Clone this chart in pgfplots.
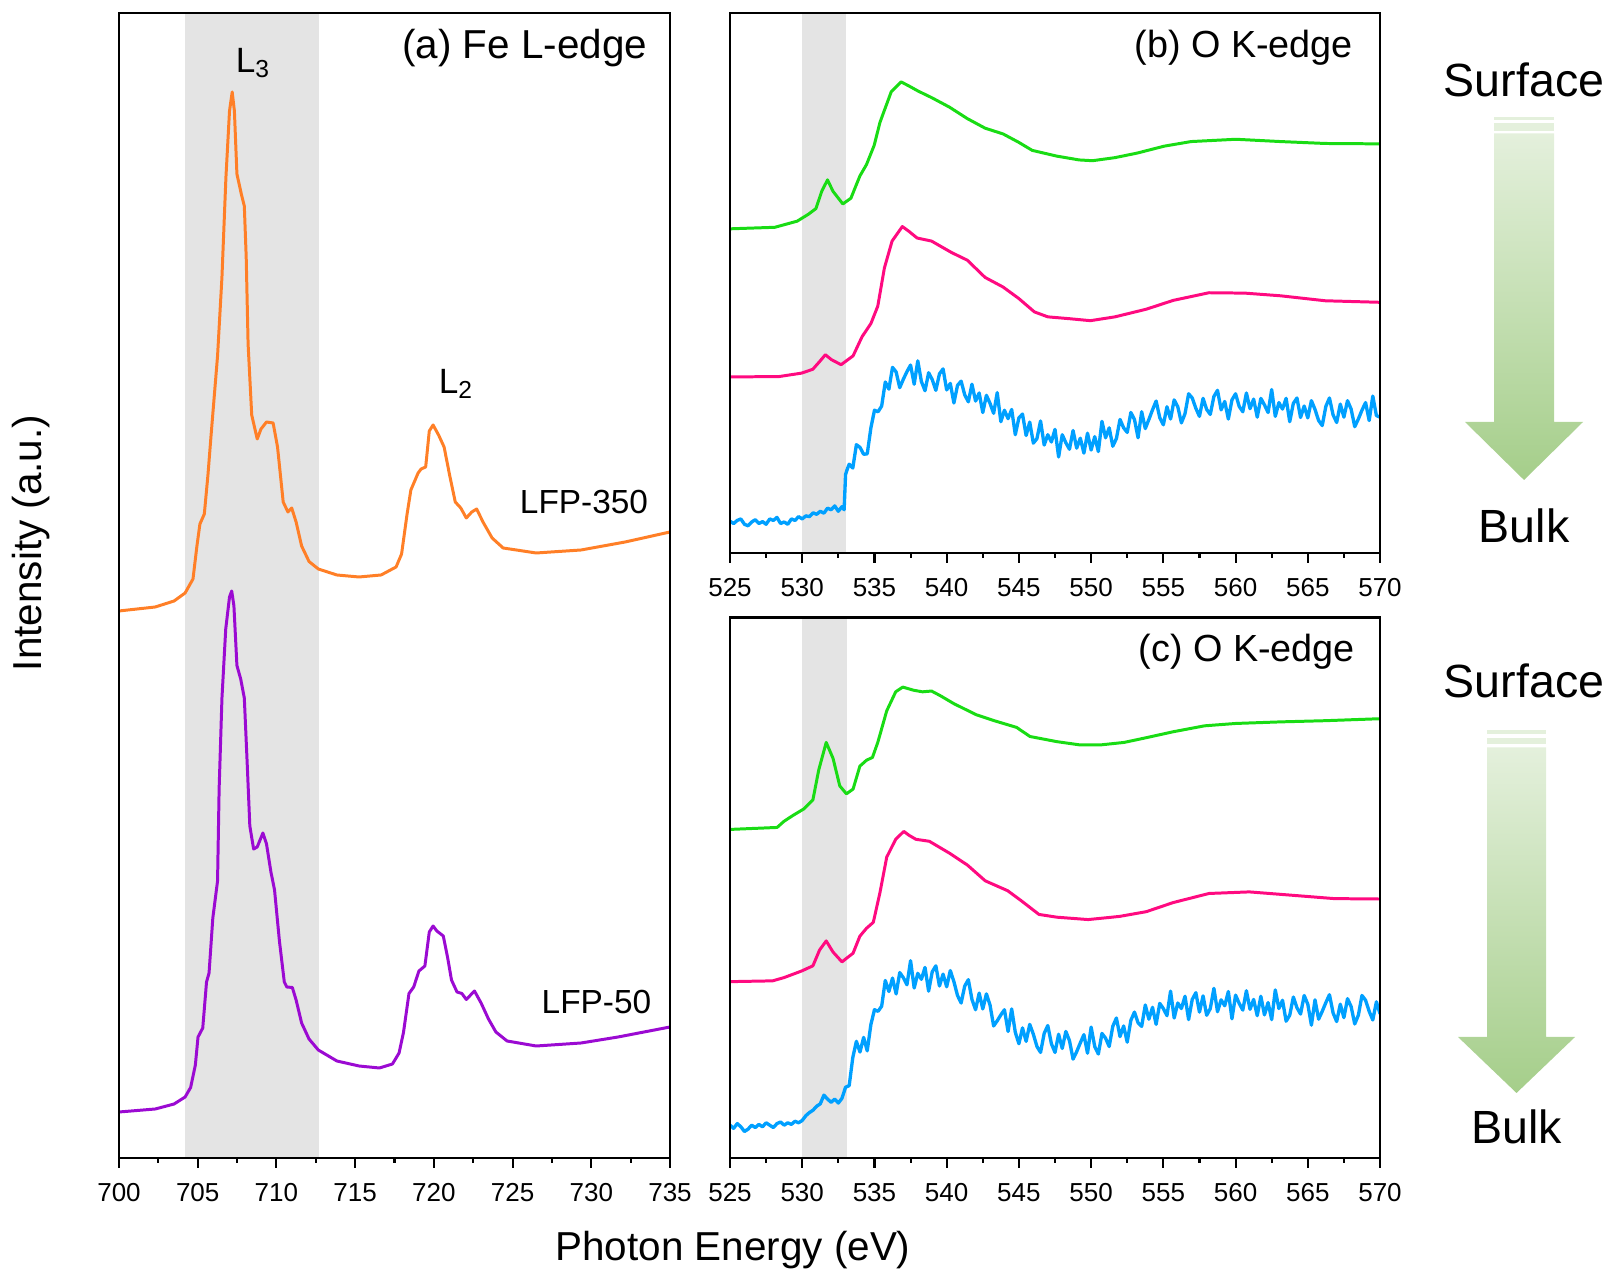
\documentclass[border=0pt]{standalone}
\usepackage{fontspec}
\setmainfont{Liberation Sans}
\usepackage{pgfplots}
\pgfplotsset{compat=1.18}
\definecolor{cOrange}{RGB}{255,127,39}
\definecolor{cPurple}{RGB}{155,10,210}
\definecolor{cGreen}{RGB}{25,220,20}
\definecolor{cPink}{RGB}{255,10,128}
\definecolor{cBlue}{RGB}{0,160,255}
\definecolor{cShade}{RGB}{228,228,228}
\definecolor{arrTop}{RGB}{228,240,220}
\definecolor{arrBot}{RGB}{165,206,138}
\pgfplotsset{
  panel/.style={
    scale only axis, anchor=south west,
    axis on top,
    axis line style={line width=1.3pt, black},
    ytick=\empty,
    xtick pos=left,
    tick align=outside,
    minor x tick num=1,
    major tick length=0.2cm, minor tick length=0.1cm,
    tick style={black, line width=1.2pt},
    xticklabel style={font=\fontsize{14.8}{17}\selectfont, yshift=-0.19cm},
    /pgf/number format/assume math mode=true,
    /pgf/number format/set thousands separator={},
  },
  curve/.style={line width=1.7pt, line join=round, line cap=round, no marks},
  noisy/.style={line width=1.9pt, line join=round, line cap=round, no marks},
}
\begin{document}
\begin{tikzpicture}
\useasboundingbox (0,0) rectangle (32.14,25.5);
% ---------------- panel (a)
\begin{axis}[panel, at={(2.38cm,2.34cm)}, width=11.02cm, height=22.9cm,
  xmin=700, xmax=735, ymin=5, ymax=1150, xtick={700,705,...,735}]
\fill[cShade] (axis cs:704.2,5) rectangle (axis cs:712.7,1150);
\addplot[curve, cOrange] coordinates {
(700,552) (702.3,556) (703.5,562) (704.2,570) (704.7,584) (704.95,617) (705.14,639) (705.42,649) (705.65,688) (705.85,728) (706.26,807) (706.54,886) (706.79,985) (707.02,1052) (707.19,1071) (707.33,1052) (707.49,989) (707.77,969) (707.96,957) (708.08,906) (708.2,819) (708.43,748) (708.78,724) (709.02,734) (709.37,741) (709.79,740) (710.07,716) (710.43,661) (710.73,651) (710.97,655) (711.25,641) (711.6,617) (712.07,601.5) (712.66,594) (713.84,588) (715.25,586) (716.65,588) (717.6,596) (717.95,609) (718.3,649) (718.54,673) (719.0,690) (719.19,694) (719.48,696) (719.71,732) (719.95,738) (720.3,728) (720.65,716) (721.0,688) (721.36,661) (721.71,655) (722.06,645) (722.41,651) (722.72,654) (723.12,641) (723.7,625) (724.4,615) (726.5,610) (729.35,613) (732.15,621) (735,631)
};
\addplot[curve, cPurple] coordinates {
(700,51) (702.3,54) (703.5,59) (704.2,66) (704.55,75.5) (704.85,98) (705.02,126) (705.32,135) (705.56,181) (705.72,190) (705.96,245) (706.26,282) (706.36,374) (706.54,465) (706.78,534) (707.02,566) (707.16,572) (707.3,557) (707.49,497.5) (707.73,484) (707.96,465) (708.15,397) (708.31,337) (708.55,314) (708.78,316) (709.14,330) (709.37,319) (709.65,291) (709.88,273) (710.19,222) (710.5,181) (710.66,176) (711.01,175.5) (711.25,163) (711.6,140) (712.07,124) (712.66,113) (713.84,102) (715.25,97) (716.54,95) (717.37,99) (717.79,110) (718.07,130.5) (718.42,169.5) (718.72,176) (719.05,192) (719.43,197) (719.71,231) (719.95,237) (720.19,232) (720.6,227) (720.89,204) (721.12,183) (721.47,171) (721.78,169.5) (722.06,163.5) (722.58,172) (723.0,160) (723.47,144) (723.94,131) (724.65,122) (726.5,117) (729.35,120) (731.7,126) (735,136)
};
\node[anchor=east, font=\fontsize{23}{26}\selectfont] at (axis cs:733.95,1115) {(a) Fe L-edge};
\node[font=\fontsize{20}{24}\selectfont] at (axis cs:708.5,1100) {L\textsubscript{3}};
\node[font=\fontsize{20}{24}\selectfont] at (axis cs:721.4,779) {L\textsubscript{2}};
\node[anchor=east, font=\fontsize{19}{22}\selectfont] at (axis cs:734.0,661) {LFP-350};
\node[anchor=east, font=\fontsize{19}{22}\selectfont] at (axis cs:734.2,161) {LFP-50};
\end{axis}
% ---------------- panel (b)
\begin{axis}[panel, at={(14.60cm,14.44cm)}, width=13.0cm, height=10.80cm,
  xmin=525, xmax=570, ymin=-5, ymax=1406, xtick={525,530,...,570}]
\fill[cShade] (axis cs:530,-5) rectangle (axis cs:533,1406);
\addplot[curve, cGreen] coordinates {
(525,842) (528.1,846) (529.65,862) (530.42,880) (530.95,895) (531.35,940) (531.75,970) (532.13,940) (532.81,907) (533.37,922) (533.99,980) (534.45,1010) (534.98,1060) (535.38,1120) (536.16,1200) (536.84,1226) (537.4,1215) (538.02,1202) (538.95,1185) (540.19,1160) (541.43,1130) (542.66,1105) (543.9,1090) (544.99,1068) (545.92,1047) (547.62,1032) (549.17,1022) (550.1,1020) (551.65,1028) (553.2,1040) (555.06,1058) (556.92,1070) (560.02,1076) (563.12,1070) (566.22,1065) (570,1064)
};
\addplot[curve, cPink] coordinates {
(525,455) (528.4,456) (529.96,465) (530.73,475) (531.2,495) (531.6,513) (532.03,500) (532.69,487) (533.52,510) (534.14,560) (534.76,595) (535.23,640) (535.69,740) (536.22,810) (536.93,848) (537.4,835) (537.95,818) (538.95,810) (540.34,780) (541.43,760) (542.66,715) (543.9,690) (544.99,660) (546.07,625) (547.0,612) (548.55,607) (549.95,602) (551.65,612) (553.82,632) (555.68,655) (558.16,675) (560.64,674) (563.12,667) (566.22,654) (570,650)
};
\addplot[noisy, cBlue] coordinates {
(525.00,78) (525.25,72) (525.50,80) (525.75,84) (526.00,70) (526.25,66) (526.50,76) (526.75,82) (527.00,72) (527.25,77) (527.50,70) (527.75,84) (528.00,80) (528.25,88) (528.50,72) (528.75,76) (529.00,70) (529.25,84) (529.50,80) (529.75,90) (530.00,84) (530.25,92) (530.50,90) (530.75,100) (531.00,96) (531.25,104) (531.50,99) (531.75,112) (532.00,108) (532.25,118) (532.50,104) (532.75,116) (532.90,108) (533.00,200) (533.10,212)
(533.25,227) (533.50,217) (533.75,278) (534.00,271) (534.25,253) (534.50,254) (534.75,321) (535.00,368) (535.25,364) (535.50,379) (535.75,442) (536.00,423) (536.25,480) (536.50,468) (536.75,427) (537.00,449) (537.25,469) (537.50,486) (537.75,436) (538.00,497) (538.25,443) (538.50,419) (538.75,466) (539.00,448) (539.25,420) (539.50,463) (539.75,476) (540.00,421) (540.25,438) (540.50,387) (540.75,433) (541.00,444) (541.25,408) (541.50,390) (541.75,436) (542.00,392) (542.25,413) (542.50,362) (542.75,407) (543.00,386) (543.25,360) (543.50,414) (543.75,338) (544.00,368) (544.25,346) (544.50,370) (544.75,304) (545.00,348) (545.25,358) (545.50,302) (545.75,337) (546.00,282) (546.25,294) (546.50,340) (546.75,277) (547.00,304) (547.25,285) (547.50,318) (547.75,246) (548.00,304) (548.25,283) (548.50,266) (548.75,315) (549.00,269) (549.25,295) (549.50,256) (549.75,308) (550.00,264) (550.25,299) (550.50,260) (550.75,339) (551.00,296) (551.25,322) (551.50,274) (551.75,294) (552.00,344) (552.25,322) (552.50,310) (552.75,362) (553.00,344) (553.25,296) (553.50,364) (553.75,320) (554.00,344) (554.25,369) (554.50,392) (554.75,349) (555.00,330) (555.25,377) (555.50,345) (555.75,395) (556.00,377) (556.25,335) (556.50,359) (556.75,411) (557.00,400) (557.25,373) (557.50,352) (557.75,399) (558.00,370) (558.25,357) (558.50,404) (558.75,420) (559.00,369) (559.25,391) (559.50,345) (559.75,395) (560.00,411) (560.25,378) (560.50,364) (560.75,413) (561.00,372) (561.25,397) (561.50,350) (561.75,399) (562.00,382) (562.25,362) (562.50,422) (562.75,352) (563.00,388) (563.25,371) (563.50,399) (563.75,338) (564.00,386) (564.25,400) (564.50,349) (564.75,379) (565.00,348) (565.25,393) (565.50,370) (565.75,341) (566.00,328) (566.25,378) (566.50,400) (566.75,356) (567.00,336) (567.25,384) (567.50,350) (567.75,393) (568.00,371) (568.25,325) (568.50,345) (568.75,368) (569.00,388) (569.25,341) (569.50,405) (569.75,354) (570.00,350)
};
\node[anchor=east, font=\fontsize{21.5}{25}\selectfont] at (axis cs:568.55,1315) {(b) O K-edge};
\end{axis}
% ---------------- panel (c)
\begin{axis}[panel, at={(14.60cm,2.34cm)}, width=13.0cm, height=10.81cm,
  xmin=525, xmax=570, ymin=1, ymax=1368, xtick={525,530,...,570}]
\fill[cShade] (axis cs:530,1) rectangle (axis cs:533.1,1368);
\addplot[curve, cGreen] coordinates {
(525,832) (528.26,837) (528.72,852) (529.34,867) (530.12,884) (530.74,907) (531.14,982) (531.66,1052) (532.13,1012) (532.6,942) (533.06,922) (533.52,934) (533.99,992) (534.45,1007) (534.86,1014) (535.23,1052) (535.85,1132) (536.47,1180) (536.96,1192) (537.71,1184) (538.33,1180) (538.95,1182) (539.57,1170) (540.5,1150) (542.05,1122) (543.29,1107) (544.84,1090) (545.77,1067) (547.63,1054) (549.17,1046) (550.72,1046) (552.28,1052) (553.82,1064) (555.68,1079) (557.85,1094) (560.02,1100) (563.12,1104) (566.22,1107) (570,1112)
};
\addplot[curve, cPink] coordinates {
(525,447) (527.95,449) (528.72,457) (529.96,474) (530.74,487) (531.2,527) (531.66,550) (532.13,522) (532.75,497) (533.52,519) (533.99,562) (534.45,582) (534.92,597) (535.38,672) (535.85,762) (536.47,807) (537.03,827) (537.4,817) (537.87,807) (538.8,802) (540.19,772) (541.43,742) (542.67,702) (544.22,677) (545.15,652) (546.39,617) (547.63,610) (549.8,604) (551.97,612) (553.82,624) (555.68,647) (558.16,670) (560.95,674) (563.74,666) (566.84,657) (570,656)
};
\addplot[noisy, cBlue] coordinates {
(525.00,84) (525.25,76) (525.50,88) (525.75,80) (526.00,68) (526.25,74) (526.50,84) (526.75,78) (527.00,86) (527.25,80) (527.50,90) (527.75,84) (528.00,78) (528.25,88) (528.50,92) (528.75,84) (529.00,90) (529.25,86) (529.50,94) (529.75,90) (530.00,96) (530.25,108) (530.50,116) (530.75,122) (531.00,132) (531.25,138) (531.50,160) (531.75,150) (532.00,142) (532.25,150) (532.50,140) (532.75,152) (533.00,180)
(533.25,184) (533.50,255) (533.75,296) (534.00,269) (534.25,306) (534.50,272) (534.75,338) (535.00,376) (535.25,372) (535.50,385) (535.75,450) (536.00,422) (536.25,456) (536.50,416) (536.75,470) (537.00,457) (537.25,439) (537.50,500) (537.75,431) (538.00,468) (538.25,453) (538.50,483) (538.75,423) (539.00,472) (539.25,487) (539.50,436) (539.75,466) (540.00,434) (540.25,475) (540.50,447) (540.75,412) (541.00,393) (541.25,436) (541.50,452) (541.75,402) (542.00,376) (542.25,418) (542.50,378) (542.75,416) (543.00,388) (543.25,335) (543.50,348) (543.75,363) (544.00,376) (544.25,321) (544.50,378) (544.75,319) (545.00,290) (545.25,330) (545.50,296) (545.75,339) (546.00,314) (546.25,283) (546.50,268) (546.75,316) (547.00,336) (547.25,290) (547.50,268) (547.75,314) (548.00,278) (548.25,321) (548.50,298) (548.75,251) (549.00,270) (549.25,292) (549.50,313) (549.75,266) (550.00,332) (550.25,283) (550.50,264) (550.75,316) (551.00,304) (551.25,283) (551.50,334) (551.75,355) (552.00,308) (552.25,335) (552.50,294) (552.75,349) (553.00,370) (553.25,343) (553.50,334) (553.75,388) (554.00,352) (554.25,382) (554.50,339) (554.75,392) (555.00,379) (555.25,361) (555.50,423) (555.75,355) (556.00,393) (556.25,379) (556.50,410) (556.75,351) (557.00,402) (557.25,419) (557.50,370) (557.75,411) (558.00,362) (558.25,379) (558.50,430) (558.75,371) (559.00,401) (559.25,386) (559.50,422) (559.75,353) (560.00,413) (560.25,392) (560.50,375) (560.75,424) (561.00,377) (561.25,402) (561.50,361) (561.75,410) (562.00,363) (562.25,394) (562.50,351) (562.75,426) (563.00,379) (563.25,400) (563.50,347) (563.75,362) (564.00,408) (564.25,381) (564.50,365) (564.75,412) (565.00,390) (565.25,337) (565.50,401) (565.75,352) (566.00,372) (566.25,394) (566.50,414) (566.75,368) (567.00,346) (567.25,390) (567.50,356) (567.75,404) (568.00,384) (568.25,340) (568.50,362) (568.75,412) (569.00,400) (569.25,372) (569.50,350) (569.75,396) (570.00,366)
};
\node[anchor=east, font=\fontsize{21.5}{25}\selectfont] at (axis cs:568.7,1282) {(c) O K-edge};
\end{axis}
% ---------------- outer labels
\node[rotate=90, font=\fontsize{23}{27}\selectfont] at (0.62,14.64) {Intensity (a.u.)};
\node[font=\fontsize{23}{27}\selectfont] at (14.66,0.50) {Photon Energy (eV)};
% ---------------- arrows
\node[font=\fontsize{26.5}{30}\selectfont] at (30.48,23.90) {Surface};
\shade[top color=arrTop, bottom color=arrBot] (29.88,22.83) -- (31.08,22.83) -- (31.08,17.06) -- (31.66,17.06) -- (30.48,15.90) -- (29.30,17.06) -- (29.88,17.06) -- cycle;
\fill[arrTop] (29.88,23.094) rectangle (31.08,23.162);
\fill[arrTop] (29.88,22.886) rectangle (31.08,23.04);
\node[font=\fontsize{26.5}{30}\selectfont] at (30.48,14.99) {Bulk};
\node[font=\fontsize{26.5}{30}\selectfont] at (30.48,11.88) {Surface};
\shade[top color=arrTop, bottom color=arrBot] (29.74,10.55) -- (30.92,10.55) -- (30.92,4.76) -- (31.50,4.76) -- (30.33,3.64) -- (29.16,4.76) -- (29.74,4.76) -- cycle;
\fill[arrTop] (29.74,10.824) rectangle (30.92,10.894);
\fill[arrTop] (29.74,10.62) rectangle (30.92,10.74);
\node[font=\fontsize{26.5}{30}\selectfont] at (30.33,2.96) {Bulk};
\end{tikzpicture}
\end{document}
